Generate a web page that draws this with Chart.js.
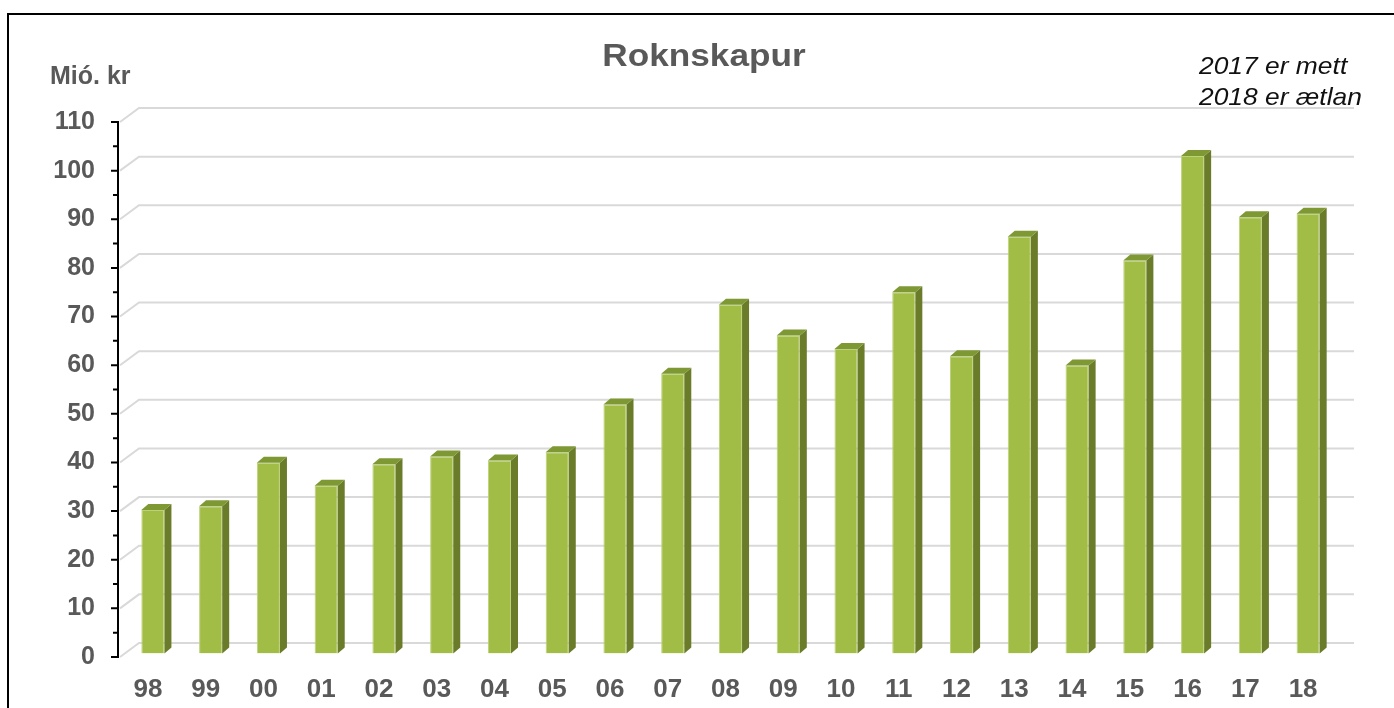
<!DOCTYPE html>
<html>
<head>
<meta charset="utf-8">
<script src="https://cdn.jsdelivr.net/npm/chart.js@4"></script>
<style>
  html, body { margin: 0; padding: 0; background: #fff; overflow: hidden; }
  #wrap { position: relative; width: 1394px; height: 708px; }
  #frame { position: absolute; left: 7px; top: 13px; width: 1500px; height: 800px;
           border-left: 2px solid #000; border-top: 2px solid #000; }
  canvas { position: absolute; left: 0; top: 0; }
</style>
</head>
<body>
<div id="wrap">
  <div id="frame"></div>
  <canvas id="chart" width="1394" height="708"></canvas>
</div>
<script>
// years (two-digit labels) and values in Mió. kr
const years  = ['98','99','00','01','02','03','04','05','06','07','08','09','10','11','12','13','14','15','16','17','18'];
const values = [29.5, 30.3, 39.2, 34.5, 38.9, 40.5, 39.7, 41.4, 51.2, 57.5, 71.7, 65.4, 62.6, 74.3, 61.1, 85.7, 59.2, 80.8, 102.3, 89.7, 90.4];
const yMax   = 110;
const yStep  = 10;

const GRAY  = '#595959';
const FRONT = '#a2bd45';
const SIDE  = '#6a7c2a';
const TOP   = '#7e9834';

// 3D look: back wall offset and bar depth
const WALL  = { dx: 20, dy: -14 };
const SHIFT = { dx: 5, dy: -3.5 };
const DEPTH = { dx: 7, dy: -6 };

const wallPlugin = {
  id: 'wall',
  beforeDatasetsDraw(chart) {
    const { ctx, chartArea, scales: { y } } = chart;
    ctx.save();
    ctx.strokeStyle = '#d9d9d9';
    ctx.lineWidth = 2;
    for (let v = 0; v <= yMax; v += yStep) {
      const py = y.getPixelForValue(v);
      ctx.beginPath();
      ctx.moveTo(chartArea.left + 1, py);
      ctx.lineTo(chartArea.left + WALL.dx, py + WALL.dy);
      ctx.lineTo(chartArea.right + WALL.dx + 2, py + WALL.dy);
      ctx.stroke();
    }
    ctx.restore();
    ctx.save();
    ctx.translate(SHIFT.dx, SHIFT.dy);
  },
  afterDatasetsDraw(chart) {
    const { ctx } = chart;
    const meta = chart.getDatasetMeta(0);
    meta.data.forEach(bar => {
      const { x, y, base, width } = bar.getProps(['x', 'y', 'base', 'width'], true);
      const x1 = x - width / 2, x2 = x + width / 2;
      // side face
      ctx.fillStyle = SIDE;
      ctx.beginPath();
      ctx.moveTo(x2, base);
      ctx.lineTo(x2, y);
      ctx.lineTo(x2 + DEPTH.dx, y + DEPTH.dy);
      ctx.lineTo(x2 + DEPTH.dx, base + DEPTH.dy);
      ctx.closePath();
      ctx.fill();
      // top face
      ctx.fillStyle = TOP;
      ctx.beginPath();
      ctx.moveTo(x1, y);
      ctx.lineTo(x1 + DEPTH.dx, y + DEPTH.dy);
      ctx.lineTo(x2 + DEPTH.dx, y + DEPTH.dy);
      ctx.lineTo(x2, y);
      ctx.closePath();
      ctx.fill();
    });
    ctx.restore();
  },
  afterDraw(chart) {
    const { ctx, chartArea, scales: { y } } = chart;
    const ax = chartArea.left - 1;
    ctx.save();
    // y axis line and tick marks
    ctx.strokeStyle = '#000';
    ctx.lineWidth = 2;
    ctx.beginPath();
    ctx.moveTo(ax, y.getPixelForValue(yMax) - 1);
    ctx.lineTo(ax, y.getPixelForValue(0) + 1);
    for (let v = 0; v <= yMax; v += yStep / 2) {
      const py = y.getPixelForValue(v);
      const len = v % yStep === 0 ? 7 : 5;
      ctx.moveTo(ax - len, py);
      ctx.lineTo(ax, py);
    }
    ctx.stroke();

    // title
    ctx.fillStyle = GRAY;
    ctx.textBaseline = 'alphabetic';
    ctx.save();
    ctx.translate(704, 66);
    ctx.scale(1.1, 1);
    ctx.textAlign = 'center';
    ctx.font = 'bold 32px "Liberation Sans", Arial, sans-serif';
    ctx.fillText('Roknskapur', 0, 0);
    ctx.restore();

    // unit
    ctx.textAlign = 'left';
    ctx.font = 'bold 25px "Liberation Sans", Arial, sans-serif';
    ctx.fillText('Mió. kr', 50, 84);

    // note
    ctx.fillStyle = '#111';
    ctx.font = 'italic 24px "Liberation Sans", Arial, sans-serif';
    ctx.save();
    ctx.translate(1199, 0);
    ctx.scale(1.1, 1);
    ctx.fillText('2017 er mett', 0, 74);
    ctx.fillText('2018 er ætlan', 0, 105);
    ctx.restore();
    ctx.restore();
  }
};

new Chart(document.getElementById('chart'), {
  type: 'bar',
  data: {
    labels: years,
    datasets: [{
      data: values,
      backgroundColor: FRONT,
      borderColor: '#bcd27a',
      borderWidth: 1,
      categoryPercentage: 1,
      barPercentage: 0.4
    }]
  },
  options: {
    responsive: false,
    animation: false,
    devicePixelRatio: 1,
    layout: { padding: { top: 122, right: 62, left: 0, bottom: 0 } },
    plugins: { legend: { display: false }, title: { display: false }, tooltip: { enabled: false } },
    scales: {
      x: {
        grid: { display: false },
        border: { display: false },
        ticks: {
          color: GRAY,
          padding: 9,
          font: { family: '"Liberation Sans", Arial, sans-serif', size: 26, weight: 'bold' }
        },
        afterFit: s => { s.height = 51; }
      },
      y: {
        min: 0,
        max: yMax,
        grid: { display: false },
        border: { display: false },
        ticks: {
          stepSize: yStep,
          color: GRAY,
          padding: 16,
          font: { family: '"Liberation Sans", Arial, sans-serif', size: 25, weight: 'bold' }
        },
        afterFit: s => { s.width = 119; }
      }
    }
  },
  plugins: [wallPlugin]
});
</script>
</body>
</html>
